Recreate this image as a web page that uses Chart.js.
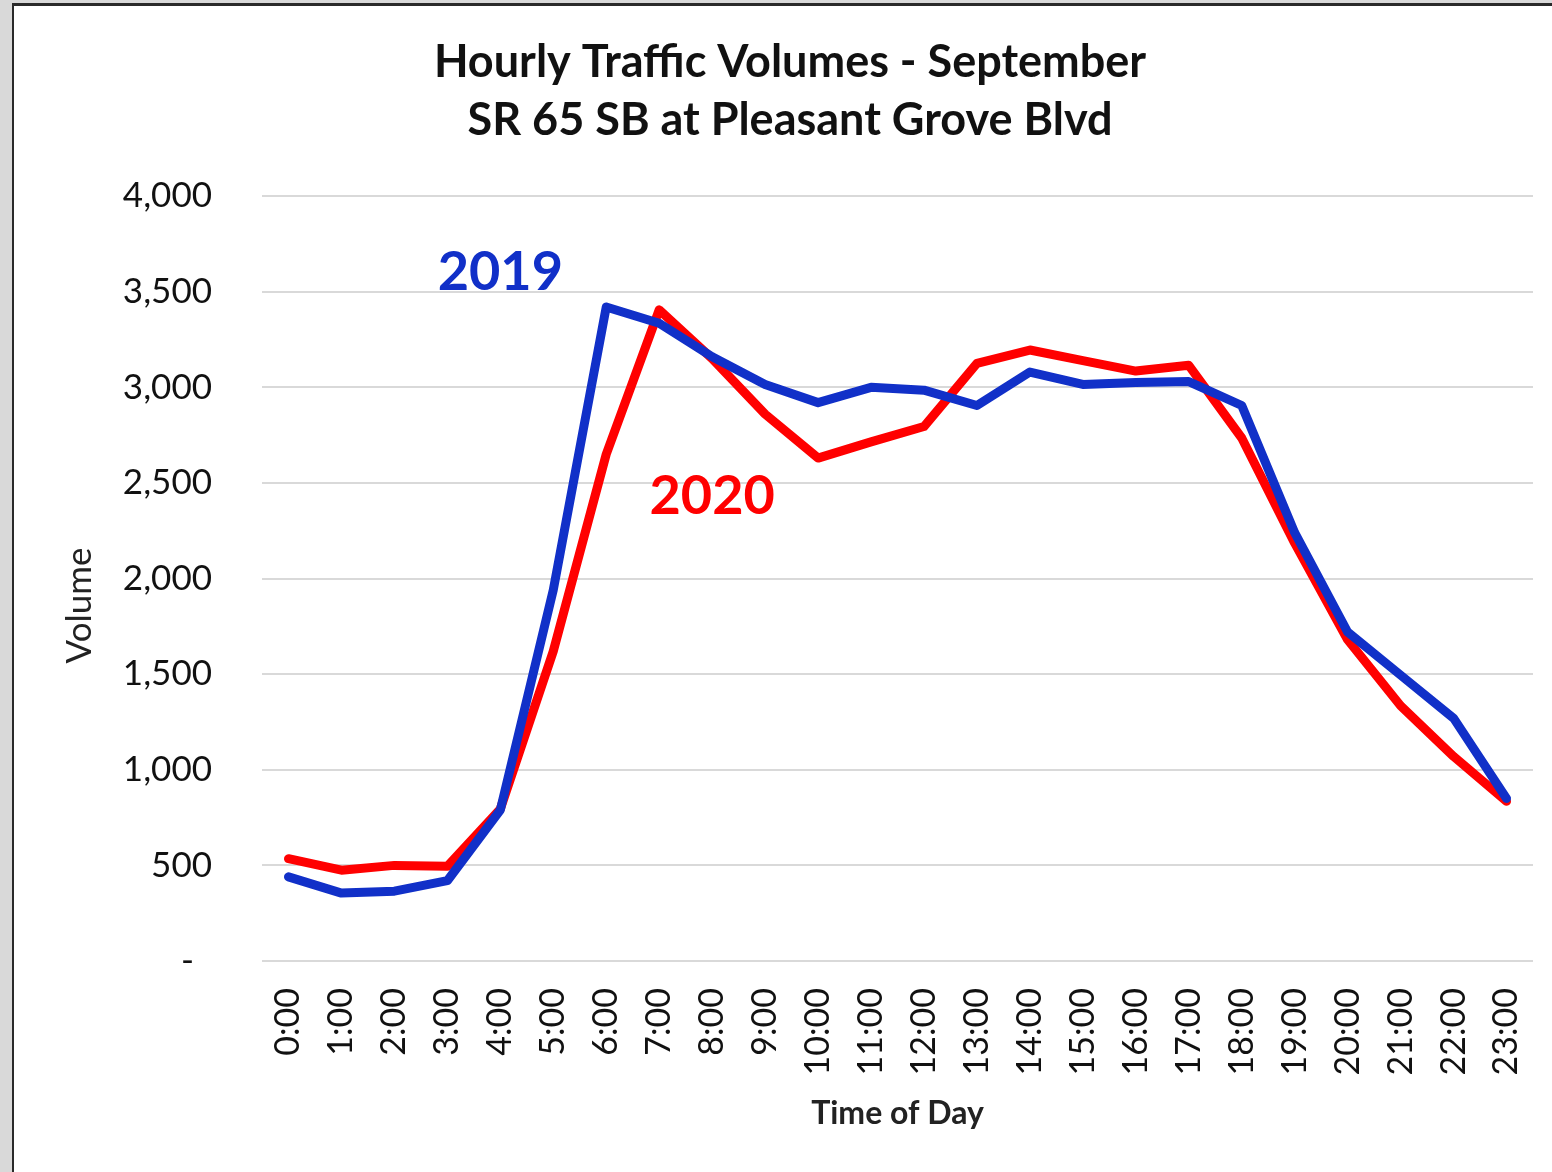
<!DOCTYPE html>
<html>
<head>
<meta charset="utf-8">
<script src="https://cdn.jsdelivr.net/npm/chart.js@4/dist/chart.umd.min.js"></script>
<style>
  html, body { margin: 0; padding: 0; width: 1552px; height: 1172px; overflow: hidden; background: #d9d9d9; }
  #frame { position: absolute; left: 12px; top: 3px; width: 1600px; height: 1300px; background: #ffffff; border-left: 2px solid #2a2a2a; border-top: 3px solid #2a2a2a; }
  #wrap { position: absolute; left: 0; top: 0; width: 1552px; height: 1172px; }
</style>
</head>
<body>
<div id="frame"></div>
<div id="wrap"><canvas id="c" width="1552" height="1172"></canvas></div>
<script>
const hours = ['0:00','1:00','2:00','3:00','4:00','5:00','6:00','7:00','8:00','9:00','10:00','11:00','12:00','13:00','14:00','15:00','16:00','17:00','18:00','19:00','20:00','21:00','22:00','23:00'];
const vol2019 = [440, 355, 365, 420, 790, 1940, 3420, 3335, 3160, 3015, 2920, 3000, 2985, 2905, 3080, 3015, 3025, 3030, 2905, 2240, 1720, 1495, 1270, 850];
const vol2020 = [535, 475, 500, 495, 795, 1620, 2650, 3405, 3150, 2860, 2630, 2715, 2795, 3125, 3195, 3140, 3085, 3115, 2735, 2185, 1680, 1335, 1070, 835];
const yTicks = [0, 500, 1000, 1500, 2000, 2500, 3000, 3500, 4000];
const titleLines = ['Hourly Traffic Volumes - September', 'SR 65 SB at Pleasant Grove Blvd'];
const seriesNames = ['2019', '2020'];
const seriesColors = ['#1130C8', '#FF0000'];
// in-chart series labels, anchored in data coordinates
const seriesLabelIndex = [4, 8];
const seriesLabelValue = [3600, 2430];

const FONT = 'Lato, "Open Sans", sans-serif';

const seriesLabelPlugin = {
  id: 'seriesLabels',
  afterDatasetsDraw(chart) {
    const {ctx, scales: {x, y}} = chart;
    ctx.save();
    ctx.font = 'bold 54px ' + FONT;
    ctx.textAlign = 'center';
    ctx.textBaseline = 'middle';
    seriesNames.forEach((name, i) => {
      ctx.fillStyle = seriesColors[i];
      ctx.fillText(name, x.getPixelForValue(seriesLabelIndex[i]), y.getPixelForValue(seriesLabelValue[i]));
    });
    ctx.restore();
  }
};

new Chart(document.getElementById('c'), {
  type: 'line',
  data: {
    labels: hours,
    datasets: [
      { label: seriesNames[0], data: vol2019, borderColor: seriesColors[0], backgroundColor: seriesColors[0], borderWidth: 9, pointRadius: 0, tension: 0, borderJoinStyle: 'round', borderCapStyle: 'round' },
      { label: seriesNames[1], data: vol2020, borderColor: seriesColors[1], backgroundColor: seriesColors[1], borderWidth: 9, pointRadius: 0, tension: 0, borderJoinStyle: 'round', borderCapStyle: 'round' }
    ]
  },
  options: {
    responsive: false,
    animation: false,
    devicePixelRatio: 1,
    layout: { padding: { left: 47, right: 19, top: 0, bottom: 0 } },
    plugins: {
      legend: { display: false },
      tooltip: { enabled: false },
      title: {
        display: true,
        text: titleLines,
        color: '#111111',
        font: { family: FONT, size: 45, weight: 'bold', lineHeight: 1.29 },
        padding: { top: 33, bottom: 47 },
        align: 'center'
      }
    },
    scales: {
      x: {
        offset: true,
        grid: { display: false, drawTicks: false },
        border: { display: false },
        ticks: {
          color: '#111111',
          font: { family: FONT, size: 34 },
          minRotation: 90,
          maxRotation: 90,
          autoSkip: false,
          padding: 27
        },
        title: {
          display: true,
          text: 'Time of Day',
          color: '#222222',
          font: { family: FONT, size: 32, weight: 'bold', lineHeight: 1.2 },
          padding: { top: 0, bottom: 39 }
        },
        afterFit(scale) { scale.height = 211; scale.paddingLeft = 0; scale.paddingRight = 0; }
      },
      y: {
        min: 0,
        max: 4000,
        afterBuildTicks(scale) { scale.ticks = yTicks.map(v => ({ value: v })); },
        grid: { color: '#d9d9d9', lineWidth: 2, drawTicks: false },
        border: { display: false },
        ticks: {
          color: '#111111',
          font: { family: FONT, size: 35 },
          padding: 50,
          callback: (v) => v === 0 ? '-  ' : v.toLocaleString('en-US')
        },
        title: {
          display: true,
          text: 'Volume      ',
          color: '#222222',
          font: { family: FONT, size: 35, lineHeight: 1.2 },
          padding: { top: 12, bottom: 0 }
        },
        afterFit(scale) { scale.width = 215; }
      }
    }
  },
  plugins: [seriesLabelPlugin]
});
</script>
</body>
</html>
